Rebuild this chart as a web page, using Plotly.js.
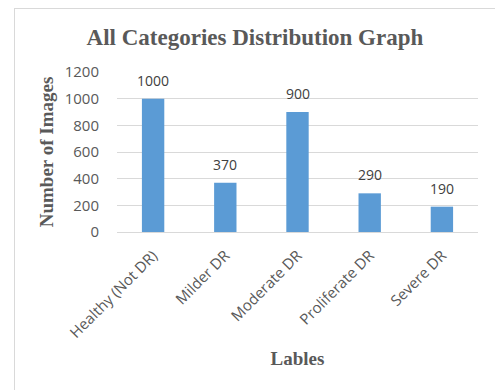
<!DOCTYPE html>
<html>
<head>
<meta charset="utf-8">
<script src="https://cdn.plot.ly/plotly-3.0.1.min.js"></script>
<style>
html,body{margin:0;padding:0;background:#fff;}
#frame{position:absolute;left:14px;top:8px;width:481px;height:382px;border-left:1px solid #d9d9d9;border-top:1px solid #d9d9d9;}
#chart{position:absolute;left:0;top:0;width:495px;height:390px;}
</style>
</head>
<body>
<div id="frame"></div>
<div id="chart"></div>
<script>
const categories = ["Healthy (Not DR)", "Milder DR", "Moderate DR", "Proliferate DR", "Severe DR"];
const imageCounts = [1000, 370, 900, 290, 190];
const yTicks = [0, 200, 400, 600, 800, 1000, 1200];

const sans = 'Open Sans, Liberation Sans, sans-serif';
const serif = 'Liberation Serif, Times New Roman, serif';

const trace = {
  type: 'bar',
  x: categories,
  y: imageCounts,
  marker: {color: '#5B9BD5'},
  hoverinfo: 'none'
};

const annotations = categories.map((c, i) => ({
  x: c, y: imageCounts[i], xref: 'x', yref: 'y',
  text: String(imageCounts[i]),
  showarrow: false, yanchor: 'bottom', yshift: 7,
  font: {family: sans, size: 14, color: '#404040'}
}));

const layout = {
  width: 495, height: 390,
  paper_bgcolor: 'rgba(0,0,0,0)',
  plot_bgcolor: 'rgba(0,0,0,0)',
  margin: {l: 117, r: 17, t: 72, b: 158},
  bargap: 0.69,
  showlegend: false,
  annotations: annotations,
  title: {
    text: '<b>All Categories Distribution Graph</b>',
    font: {family: serif, size: 23, color: '#595959'},
    x: 0.515, xanchor: 'center', y: 0.905, yanchor: 'middle'
  },
  xaxis: {
    tickangle: -45,
    tickfont: {family: sans, size: 15, color: '#595959'},
    showgrid: false,
    showline: false,
    ticks: 'outside',
    ticklen: 8,
    tickcolor: 'rgba(0,0,0,0)',
    title: {
      text: '<b>Lables</b>',
      font: {family: serif, size: 19, color: '#595959'},
      standoff: 10
    },
    automargin: false
  },
  yaxis: {
    range: [0, 1200],
    tickvals: yTicks,
    ticktext: yTicks.map(String),
    tickfont: {family: sans, size: 15, color: '#595959'},
    showgrid: true,
    gridcolor: '#d9d9d9',
    gridwidth: 1,
    zeroline: true,
    zerolinecolor: '#d9d9d9',
    zerolinewidth: 1,
    showline: false,
    ticks: 'outside',
    ticklen: 14,
    tickcolor: 'rgba(0,0,0,0)',
    title: {
      text: '<b>Number of Images</b>',
      font: {family: serif, size: 19, color: '#595959'},
      standoff: 6
    },
    automargin: false
  }
};

Plotly.newPlot('chart', [trace], layout, {displayModeBar: false, staticPlot: true});
</script>
</body>
</html>
